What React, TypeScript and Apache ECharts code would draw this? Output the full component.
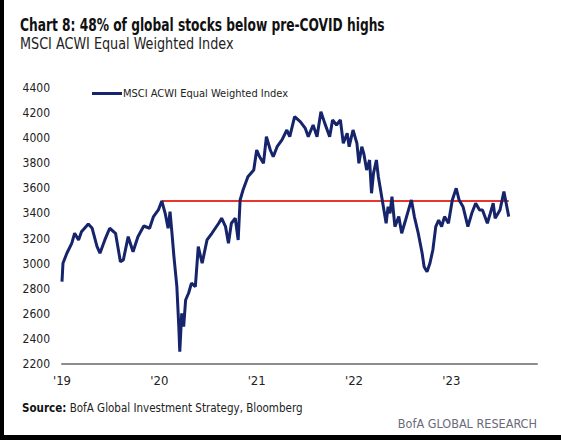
import React, { useEffect, useRef } from "react";
import * as echarts from "echarts";

// Years elapsed since the start of 2019 for each observation
const yearOffset = [
  0.0, 0.01, 0.05, 0.1, 0.13, 0.17, 0.2, 0.27, 0.31, 0.36, 0.39, 0.44, 0.49, 0.55, 0.6, 0.63, 0.68, 0.73, 0.78, 0.84,
  0.9, 0.94, 0.99, 1.025, 1.06, 1.09, 1.11, 1.13, 1.15, 1.18, 1.2, 1.21, 1.23, 1.25, 1.27, 1.3, 1.33, 1.37, 1.4, 1.44,
  1.49, 1.54, 1.61, 1.64, 1.68, 1.71, 1.74, 1.78, 1.81, 1.83, 1.86, 1.91, 1.97, 2.0, 2.03, 2.07, 2.1, 2.14, 2.17, 2.21,
  2.26, 2.31, 2.34, 2.39, 2.45, 2.5, 2.53, 2.58, 2.62, 2.66, 2.7, 2.75, 2.78, 2.82, 2.86, 2.89, 2.93, 2.95, 2.99, 3.03,
  3.05, 3.08, 3.1, 3.13, 3.16, 3.18, 3.2, 3.23, 3.25, 3.29, 3.33, 3.35, 3.37, 3.39, 3.42, 3.46, 3.49, 3.53, 3.56, 3.59,
  3.62, 3.66, 3.7, 3.72, 3.75, 3.78, 3.81, 3.84, 3.87, 3.9, 3.93, 3.97, 4.01, 4.05, 4.08, 4.12, 4.17, 4.21, 4.25, 4.29,
  4.32, 4.37, 4.4, 4.43, 4.45, 4.5, 4.54, 4.57, 4.59,
];

// MSCI ACWI Equal Weighted Index level
const indexValues = [
  2856, 3003, 3083, 3162, 3242, 3189, 3255, 3316, 3282, 3135, 3083, 3189, 3282, 3242, 3016, 3029, 3215, 3095, 3215, 3300,
  3282, 3375, 3428, 3500, 3401, 3282, 3414, 3242, 3056, 2817, 2498, 2298, 2604, 2498, 2710, 2764, 2844, 2817, 3135, 3003,
  3189, 3242, 3322, 3362, 3295, 3162, 3322, 3362, 3189, 3507, 3587, 3693, 3746, 3906, 3852, 3800, 4012, 3906, 3852, 3932,
  3986, 4065, 4012, 4171, 4130, 4078, 4012, 4105, 4012, 4211, 4118, 4012, 4145, 4105, 4145, 3959, 4039, 3932, 4065, 3959,
  3800, 3932, 3879, 3746, 3826, 3561, 3720, 3826, 3693, 3507, 3322, 3454, 3401, 3534, 3295, 3375, 3242, 3348, 3428, 3507,
  3375, 3242, 3083, 2976, 2936, 3003, 3109, 3295, 3348, 3295, 3375, 3322, 3507, 3601, 3507, 3454, 3295, 3401, 3481, 3428,
  3428, 3322, 3401, 3481, 3362, 3428, 3574, 3454, 3375,
];

const startYear = 2019;
const yearTicks = [2019, 2020, 2021, 2022, 2023];
const preCovidHigh = 3500;
const preCovidHighStart = 2020.025;
const preCovidHighEnd = 2023.59;

const FONT = "'Liberation Sans Narrow', 'DejaVu Sans Condensed', 'Roboto Condensed', Arial, sans-serif";

export default function App() {
  const ref = useRef<HTMLDivElement>(null);

  useEffect(() => {
    if (!ref.current) return;
    const chart = echarts.init(ref.current, undefined, { renderer: "svg" });
    const lineData = yearOffset.map((o, i) => [startYear + o, indexValues[i]]);
    const highData = [
      [preCovidHighStart, preCovidHigh],
      [preCovidHighEnd, preCovidHigh],
    ];
    chart.setOption({
      animation: false,
      backgroundColor: "#ffffff",
      legend: {
        data: ["MSCI ACWI Equal Weighted Index"],
        left: 92,
        top: 88,
        padding: 0,
        icon: "rect",
        itemWidth: 30,
        itemHeight: 3,
        itemGap: 0,
        textStyle: { fontFamily: FONT, fontSize: 11, color: "#222222", padding: [0, 0, 0, -4] },
      },
      grid: { left: 62, right: 24, top: 88, bottom: 76, containLabel: false },
      xAxis: {
        type: "value",
        min: yearTicks[0],
        max: 2023.88,
        interval: 1,
        axisLine: { show: true, lineStyle: { color: "#8c8c8c", width: 2 } },
        axisTick: { show: false },
        splitLine: { show: false },
        axisLabel: {
          margin: 10,
          fontFamily: FONT,
          fontSize: 13,
          color: "#222222",
          showMaxLabel: false,
          formatter: (v: number) => (yearTicks.includes(v) ? "'" + String(v).slice(2) : ""),
        },
      },
      yAxis: {
        type: "value",
        min: 2200,
        max: 4400,
        interval: 200,
        axisLine: { show: false },
        axisTick: { show: false },
        splitLine: { show: false },
        axisLabel: {
          margin: 12,
          fontFamily: FONT,
          fontSize: 12,
          color: "#222222",
          formatter: (v: number) => String(v),
        },
      },
      series: [
        {
          name: "MSCI ACWI Equal Weighted Index",
          type: "line",
          data: lineData,
          showSymbol: false,
          symbol: "none",
          lineStyle: { color: "#15246b", width: 3 },
          itemStyle: { color: "#15246b" },
          z: 3,
        },
        {
          name: "Pre-COVID high",
          type: "line",
          data: highData,
          showSymbol: false,
          symbol: "none",
          lineStyle: { color: "#e8362f", width: 2 },
          z: 2,
        },
      ],
      graphic: [
        {
          type: "text",
          x: 20,
          y: 17,
          scaleX: 0.8,
          style: {
            text: "Chart 8: 48% of global stocks below pre-COVID highs",
            fontFamily: FONT,
            fontSize: 17,
            fontWeight: "bold",
            fill: "#111111",
            textVerticalAlign: "top",
          },
        },
        {
          type: "text",
          x: 20,
          y: 36,
          scaleX: 0.95,
          style: {
            text: "MSCI ACWI Equal Weighted Index",
            fontFamily: FONT,
            fontSize: 15,
            fill: "#222222",
            textVerticalAlign: "top",
          },
        },
        {
          type: "text",
          x: 22,
          y: 401,
          scaleX: 0.886,
          style: {
            text: "{b|Source:} BofA Global Investment Strategy, Bloomberg",
            fontFamily: FONT,
            fontSize: 13,
            fill: "#222222",
            textVerticalAlign: "top",
            rich: { b: { fontFamily: FONT, fontSize: 13, fontWeight: "bold", fill: "#111111" } },
          },
        },
        {
          type: "text",
          x: 537,
          y: 417,
          scaleX: 0.965,
          style: {
            text: "BofA GLOBAL RESEARCH",
            fontFamily: FONT,
            fontSize: 13,
            fill: "#6a6a78",
            textAlign: "right",
            textVerticalAlign: "top",
          },
        },
        { type: "rect", left: 0, top: 0, shape: { width: 4, height: 440 }, style: { fill: "#000000" } },
        { type: "rect", left: 0, top: 435, shape: { width: 561, height: 5 }, style: { fill: "#000000" } },
      ],
    });
    return () => chart.dispose();
  }, []);

  return (
    <div
      ref={ref}
      style={{ position: "fixed", left: 0, top: 0, width: 561, height: 440, background: "#fff" }}
    />
  );
}
